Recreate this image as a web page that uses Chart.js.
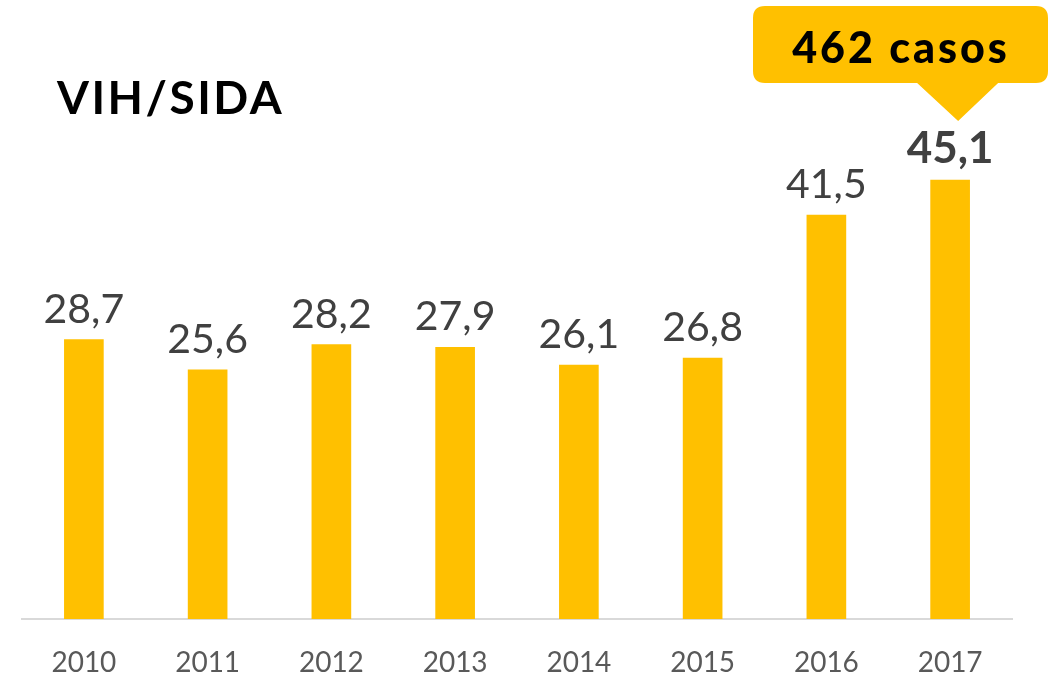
<!DOCTYPE html>
<html lang="es">
<head>
    <meta charset="UTF-8">
    <title>VIH/SIDA</title>
    <style>
        body {
            margin: 0;
            padding: 0;
            background-color: #fff;
        }
        .chart-box {
            width: 1051px;
            height: 677px;
            position: relative;
        }
    </style>
    <script src="https://cdn.jsdelivr.net/npm/chart.js"></script>
</head>
<body>

    <div class="chart-box">
        <canvas id="vihChart"></canvas>
    </div>

    <script>
        // Tasa por año
        const years = ['2010', '2011', '2012', '2013', '2014', '2015', '2016', '2017'];
        const rates = [28.7, 25.6, 28.2, 27.9, 26.1, 26.8, 41.5, 45.1];
        const chartTitle = 'VIH/SIDA';
        const calloutText = '462 casos';

        const fontFamily = 'Lato, "Open Sans", Arial, sans-serif';
        const barColor = '#FFC000';

        function formatRate(v) {
            return v.toFixed(1).replace('.', ',');
        }

        // Etiquetas de valor, título y globo del último año
        const decorations = {
            id: 'decorations',
            afterDatasetsDraw(chart) {
                const ctx = chart.ctx;
                const bars = chart.getDatasetMeta(0).data;
                const last = bars.length - 1;

                ctx.save();
                ctx.textAlign = 'center';
                ctx.textBaseline = 'alphabetic';
                bars.forEach((bar, i) => {
                    const isLast = i === last;
                    ctx.font = (isLast ? 'bold 44px ' : '41px ') + fontFamily;
                    ctx.fillStyle = '#404040';
                    ctx.fillText(formatRate(rates[i]), bar.x, bar.y - 17);
                });

                // título
                ctx.textAlign = 'left';
                ctx.fillStyle = '#000';
                ctx.font = 'bold 46px ' + fontFamily;
                ctx.letterSpacing = '2.5px';
                ctx.fillText(chartTitle, 57, 114);

                // globo
                const tip = bars[last];
                const bx = 753, by = 6, bw = 295, bh = 77, r = 12;
                ctx.fillStyle = barColor;
                ctx.beginPath();
                ctx.moveTo(bx + r, by);
                ctx.lineTo(bx + bw - r, by);
                ctx.quadraticCurveTo(bx + bw, by, bx + bw, by + r);
                ctx.lineTo(bx + bw, by + bh - r);
                ctx.quadraticCurveTo(bx + bw, by + bh, bx + bw - r, by + bh);
                ctx.lineTo(tip.x + 48, by + bh);
                ctx.lineTo(tip.x + 8, by + bh + 38);
                ctx.lineTo(tip.x - 33, by + bh);
                ctx.lineTo(bx + r, by + bh);
                ctx.quadraticCurveTo(bx, by + bh, bx, by + bh - r);
                ctx.lineTo(bx, by + r);
                ctx.quadraticCurveTo(bx, by, bx + r, by);
                ctx.closePath();
                ctx.fill();

                ctx.textAlign = 'center';
                ctx.fillStyle = '#000';
                ctx.font = '900 43px ' + fontFamily;
                ctx.letterSpacing = '3px';
                ctx.fillText(calloutText, 901, 63);
                ctx.restore();
            }
        };

        const ctx = document.getElementById('vihChart').getContext('2d');
        const vihChart = new Chart(ctx, {
            type: 'bar',
            data: {
                labels: years,
                datasets: [{
                    data: rates,
                    backgroundColor: barColor,
                    barThickness: 39
                }]
            },
            options: {
                responsive: true,
                maintainAspectRatio: false,
                animation: false,
                layout: {
                    padding: { top: 35, left: 22, right: 39, bottom: 0 }
                },
                plugins: {
                    legend: { display: false },
                    tooltip: { enabled: false }
                },
                scales: {
                    x: {
                        grid: { display: false, drawTicks: false },
                        border: { display: true, color: '#d9d9d9', width: 2 },
                        ticks: {
                            color: '#595959',
                            font: { family: fontFamily, size: 28 },
                            padding: 27
                        },
                        afterFit(scale) {
                            scale.height = 58;
                        }
                    },
                    y: {
                        display: false,
                        min: 0,
                        max: 60
                    }
                }
            },
            plugins: [decorations]
        });
    </script>

</body>
</html>
